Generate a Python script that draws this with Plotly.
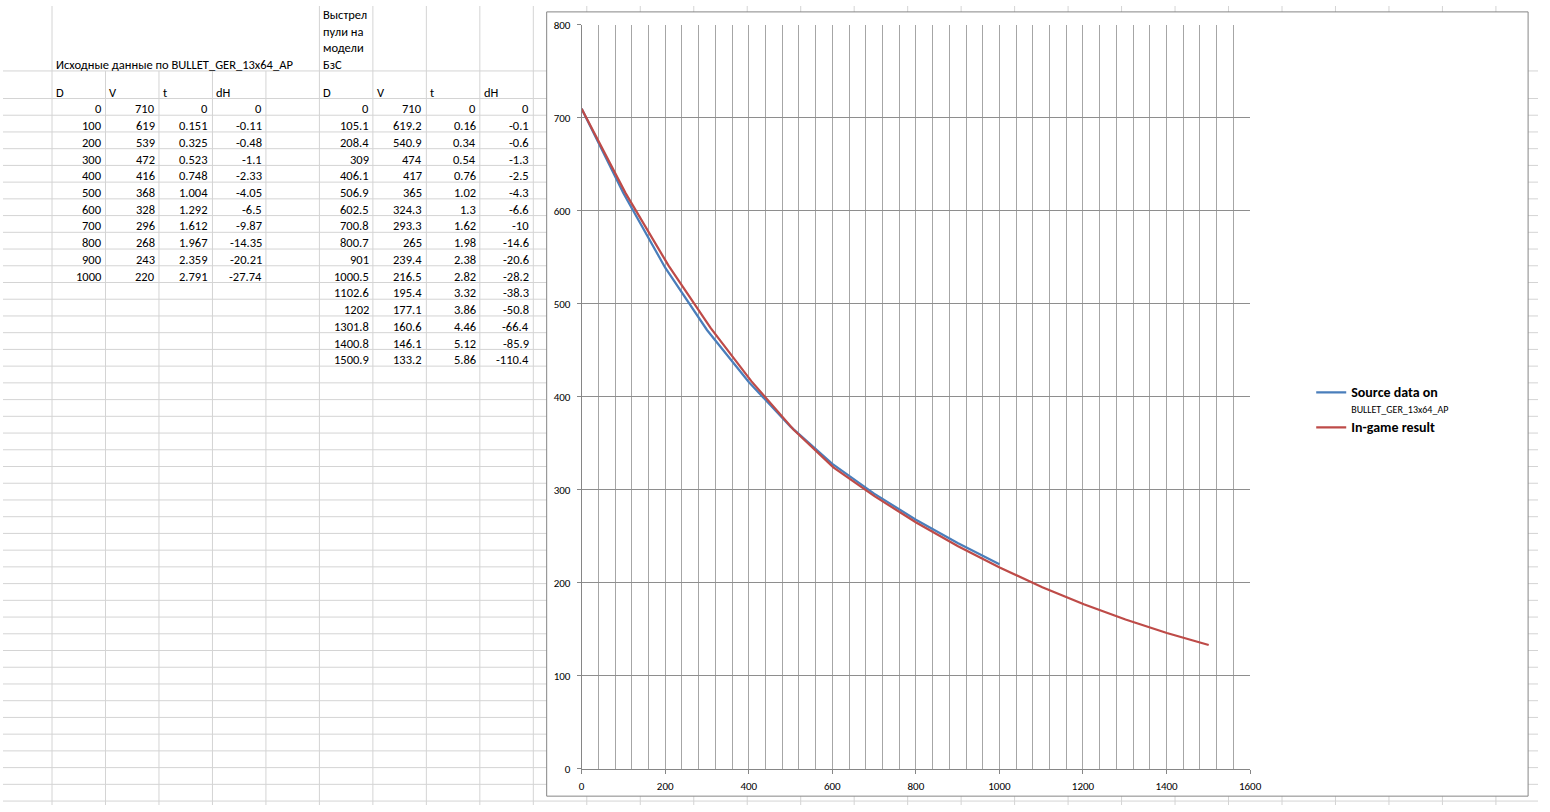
import plotly.graph_objects as go

# ---------------- data ----------------
title_src = "Исходные данные по BULLET_GER_13x64_AP"
title_game_lines = ["Выстрел", "пули на", "модели", "БзС"]
headers = ["D", "V", "t", "dH"]

src_D = [0, 100, 200, 300, 400, 500, 600, 700, 800, 900, 1000]
src_V = [710, 619, 539, 472, 416, 368, 328, 296, 268, 243, 220]
src_t = [0, 0.151, 0.325, 0.523, 0.748, 1.004, 1.292, 1.612, 1.967, 2.359, 2.791]
src_dH = [0, -0.11, -0.48, -1.1, -2.33, -4.05, -6.5, -9.87, -14.35, -20.21, -27.74]

game_D = [0, 105.1, 208.4, 309, 406.1, 506.9, 602.5, 700.8, 800.7, 901, 1000.5,
          1102.6, 1202, 1301.8, 1400.8, 1500.9]
game_V = [710, 619.2, 540.9, 474, 417, 365, 324.3, 293.3, 265, 239.4, 216.5,
          195.4, 177.1, 160.6, 146.1, 133.2]
game_t = [0, 0.16, 0.34, 0.54, 0.76, 1.02, 1.3, 1.62, 1.98, 2.38, 2.82,
          3.32, 3.86, 4.46, 5.12, 5.86]
game_dH = [0, -0.1, -0.6, -1.3, -2.5, -4.3, -6.6, -10, -14.6, -20.6, -28.2,
           -38.3, -50.8, -66.4, -85.9, -110.4]

legend_src = ("<span style='font-size:14px'><b>Source data on</b></span><br>"
              "<span style='font-size:10px'>BULLET_GER_13x64_AP</span>")
legend_game = "<span style='font-size:14px'><b>In-game result</b></span>"

# ---------------- page geometry ----------------
W, H = 1550, 812
FONT = "Carlito, 'Liberation Sans Narrow', 'Arial Narrow', 'DejaVu Sans Condensed', 'Liberation Sans', sans-serif"
GRID = "#D4D4D4"

COL_X0, COL_W = 49.5, 54.0
ROW_TITLE_BOTTOM = 66
ROW_HEAD_BOTTOM = 94
ROW_H = 17


def px(x):
    return x / W


def py(y):
    return 1 - y / H


shapes = []
# spreadsheet column lines
for k in range(28):
    x = COL_X0 + COL_W * k
    y_top = ROW_TITLE_BOTTOM if 1 <= k <= 4 else 0
    shapes.append(dict(type="line", xref="paper", yref="paper", layer="below",
                       x0=px(x), x1=px(x), y0=py(y_top), y1=py(H),
                       line=dict(color=GRID, width=1)))
# spreadsheet row lines
row_lines = [ROW_TITLE_BOTTOM] + [ROW_HEAD_BOTTOM + ROW_H * j for j in range(43)]
for y in row_lines:
    shapes.append(dict(type="line", xref="paper", yref="paper", layer="below",
                       x0=0, x1=1, y0=py(y), y1=py(y),
                       line=dict(color=GRID, width=1)))
# chart object frame
shapes.append(dict(type="rect", xref="paper", yref="paper", layer="below",
                   x0=px(549), x1=px(1540), y0=py(803), y1=py(6),
                   fillcolor="white", line=dict(color="#868686", width=1)))

annotations = []


def cell_text(text, col, y_center, align="right"):
    left = COL_X0 + COL_W * col
    if align == "right":
        x, anchor = left + COL_W - 3, "right"
    else:
        x, anchor = left + 3, "left"
    annotations.append(dict(text=text, x=px(x), y=py(y_center), xref="paper", yref="paper",
                            xanchor=anchor, yanchor="middle", showarrow=False,
                            borderpad=0,
                            font=dict(family=FONT, size=12.5, color="#000000")))


def fmt(v):
    return f"{v:g}"


# table 1
cell_text(title_src, 0, ROW_TITLE_BOTTOM - 6.5, "left")
for c, h in enumerate(headers):
    cell_text(h, c, ROW_HEAD_BOTTOM - 6.5, "left")
for j, row in enumerate(zip(src_D, src_V, src_t, src_dH)):
    for c, v in enumerate(row):
        cell_text(fmt(v), c, ROW_HEAD_BOTTOM + ROW_H * (j + 1) - 6.5)

# table 2
for i, line in enumerate(title_game_lines):
    cell_text(line, 5, ROW_TITLE_BOTTOM - 6.5 - 17 * (len(title_game_lines) - 1 - i), "left")
for c, h in enumerate(headers):
    cell_text(h, 5 + c, ROW_HEAD_BOTTOM - 6.5, "left")
for j, row in enumerate(zip(game_D, game_V, game_t, game_dH)):
    for c, v in enumerate(row):
        cell_text(fmt(v), 5 + c, ROW_HEAD_BOTTOM + ROW_H * (j + 1) - 6.5)

# ---------------- chart ----------------
fig = go.Figure()
fig.add_trace(go.Scatter(x=src_D, y=src_V, mode="lines", name=legend_src,
                         line=dict(color="#4A7EBB", width=2.25)))
fig.add_trace(go.Scatter(x=game_D, y=game_V, mode="lines", name=legend_game,
                         line=dict(color="#BE4B48", width=2.25)))

axis_font = dict(family=FONT, size=11, color="#000000")
fig.update_layout(
    width=W, height=H, autosize=False,
    margin=dict(l=0, r=0, t=0, b=0, pad=0),
    paper_bgcolor="white", plot_bgcolor="rgba(0,0,0,0)",
    shapes=shapes, annotations=annotations,
    showlegend=True,
    legend=dict(x=px(1321), y=py(378), xanchor="left", yanchor="top",
                font=dict(family=FONT, size=12.3, color="#000000"),
                bgcolor="rgba(0,0,0,0)", borderwidth=0, valign="top",
                tracegroupgap=0),
    xaxis=dict(domain=[px(584.3), px(1259.3)], range=[0, 1600], dtick=200, tick0=0,
               showgrid=True, gridcolor="#A6A6A6", gridwidth=1,
               minor=dict(dtick=40, tick0=0, showgrid=True, gridcolor="#A6A6A6", gridwidth=1),
               showline=True, linecolor="#868686", linewidth=1,
               ticks="outside", ticklen=4, tickcolor="#868686",
               ticklabelstandoff=3,
               zeroline=False, tickfont=axis_font, fixedrange=True),
    yaxis=dict(domain=[py(775.3), py(19.3)], range=[0, 800], dtick=100, tick0=0,
               showgrid=True, gridcolor="#8E8E8E", gridwidth=1,
               showline=True, linecolor="#868686", linewidth=1,
               ticks="outside", ticklen=4, tickcolor="#868686",
               ticklabelstandoff=4,
               zeroline=False, tickfont=axis_font, fixedrange=True),
)

fig.write_html("out.html", include_plotlyjs=True, full_html=True,
               config={"displayModeBar": False},
               post_script="document.body.style.margin='0';document.body.style.overflow='hidden';")
